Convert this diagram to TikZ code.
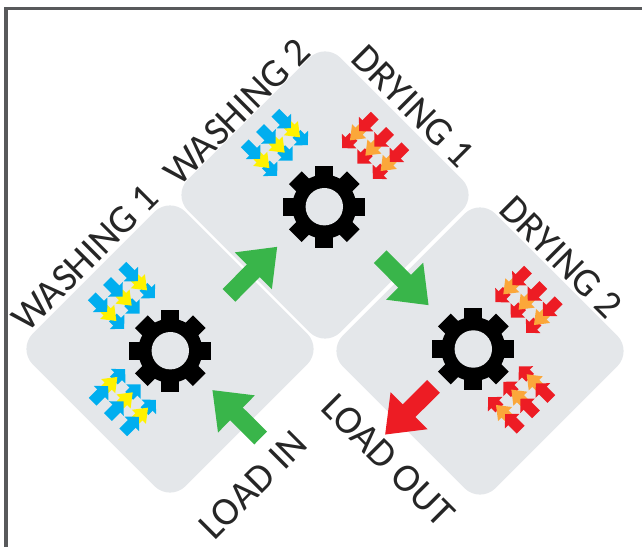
\documentclass[tikz,border=0pt]{standalone}
\usepackage{fontspec}
\setmainfont{Carlito}
\usetikzlibrary{arrows.meta}

\definecolor{panelgray}{HTML}{E4E7EA}
\definecolor{framegray}{HTML}{58595B}
\definecolor{arrowgreen}{HTML}{39B54A}
\definecolor{arrowred}{HTML}{ED1C24}
\definecolor{airblue}{HTML}{00AEEF}
\definecolor{airyellow}{HTML}{FFF200}
\definecolor{airorange}{HTML}{FBA73A}

\tikzset{
  panel/.style={fill=panelgray, rounded corners=0.44cm, minimum size=4.32cm, rotate=45, inner sep=0pt},
  biglabel/.style={font=\fontsize{22.6pt}{22.6pt}\selectfont, text=black!85, inner sep=0pt},
  bigarrow/.style={-{Triangle[length=0.68cm,width=1cm]}, line width=0.36cm},
  airarrow/.style={-{Triangle[length=0.2cm,width=0.4cm]}, line width=0.22cm},
  midarrow/.style={-{Triangle[length=0.26cm,width=0.38cm]}, line width=0.2cm}
}

% Three rows of small arrows: position, angle, outer colour, middle colour
\newcommand{\airrows}[5]{
  \begin{scope}[shift={(#1,#2)}, rotate=#3]
    \foreach \r in {-21.7,0,21.7} {
      \draw[airarrow, #4] (30,\r) -- (46,\r);
      \draw[midarrow, #5] (17,\r) -- (35,\r);
      \draw[airarrow, #4] (0,\r) -- (22,\r);
    }
  \end{scope}
}

% Gear with eight teeth
\newcommand{\gearicon}[2]{
  \begin{scope}[shift={(#1,#2)}]
    \fill[black] (0,0) circle (32);
    \foreach \a in {0,45,...,315} {
      \fill[black, rotate=\a] (-9,26) rectangle (9,41);
    }
    \fill[panelgray] (0,0) circle (18.7);
  \end{scope}
}

\begin{document}
\begin{tikzpicture}[x=0.02cm, y=-0.02cm]

  \useasboundingbox (0,0) rectangle (642,547);

  % Frame
  \draw[framegray, line width=0.07cm] (6,547) -- (6,8.5) -- (642,8.5);

  % Panels
  \node[panel] (washing one) at (170,349) {};
  \node[panel] (washing two) at (325,195) {};
  \node[panel] (drying two) at (480,351) {};

  % Gears
  \gearicon{170.3}{350.7}
  \gearicon{324.3}{206.7}
  \gearicon{473.3}{349}

  % Small arrows
  \airrows{107}{281}{-45}{airblue}{airyellow}
  \airrows{108}{417}{45}{airblue}{airyellow}
  \airrows{260}{128}{-45}{airblue}{airyellow}
  \airrows{390}{131}{-135}{arrowred}{airorange}
  \airrows{543.3}{285}{-135}{arrowred}{airorange}
  \airrows{536}{414.3}{135}{arrowred}{airorange}

  % Big arrows
  \coordinate (in tail) at (260.7,438);
  \coordinate (in tip) at (212.3,390);
  \coordinate (pass tail) at (229,295.3);
  \coordinate (pass tip) at (277.3,246.7);
  \coordinate (dry tail) at (380.2,256.7);
  \coordinate (dry tip) at (428.7,305.3);
  \coordinate (out tail) at (433.5,386.3);
  \coordinate (out tip) at (385,434.7);
  \draw[bigarrow, arrowgreen] (in tail) -- (in tip);
  \draw[bigarrow, arrowgreen] (pass tail) -- (pass tip);
  \draw[bigarrow, arrowgreen] (dry tail) -- (dry tip);
  \draw[bigarrow, arrowred] (out tail) -- (out tip);

  % Labels
  \node[biglabel, rotate=45] (label wash one) at (85,258) {WASHING 1};
  \node[biglabel, rotate=45] (label wash two) at (237,112) {WASHING 2};
  \node[biglabel, rotate=-45] (label dry one) at (413,106) {DRYING 1};
  \node[biglabel, rotate=-45] (label dry two) at (561,257) {DRYING 2};
  \node[biglabel, rotate=45] (label in) at (253,485) {LOAD IN};
  \node[biglabel, rotate=-45] (label out) at (388,460) {LOAD OUT};

\end{tikzpicture}
\end{document}
